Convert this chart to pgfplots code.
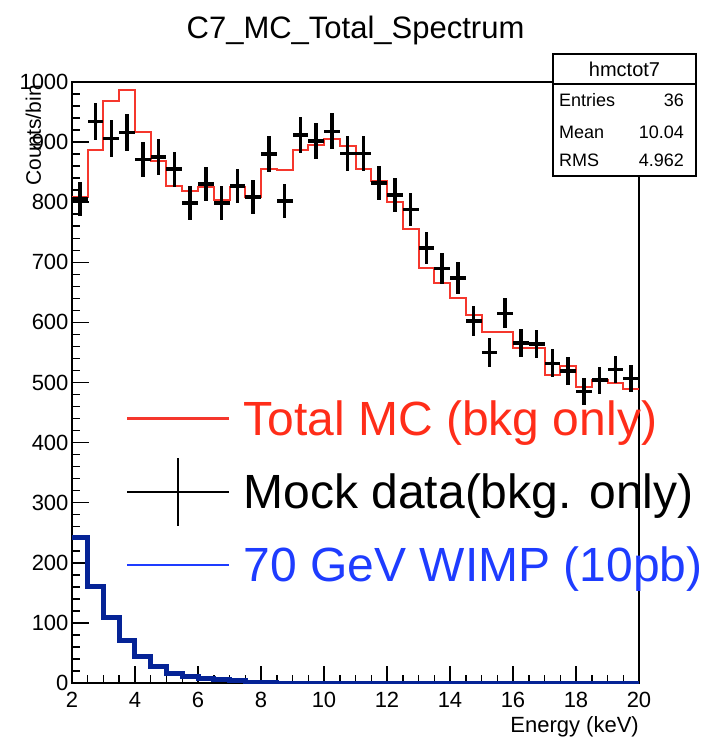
\documentclass[border=0pt]{standalone}
\usepackage{pgfplots}
\usepackage{pgfplotstable}
\pgfplotsset{compat=1.18}
\usepackage{fontspec}
\setmainfont{Liberation Sans}
\definecolor{histred}{RGB}{245,55,45}
\definecolor{legred}{RGB}{255,45,25}
\definecolor{histblue}{RGB}{5,35,150}
\definecolor{legblue}{RGB}{30,60,255}
\pgfplotstableread{
x y ex ey
2.25 805 0.25 28.4
2.75 934 0.25 30.6
3.25 906 0.25 30.1
3.75 916 0.25 30.3
4.25 871 0.25 29.5
4.75 875 0.25 29.6
5.25 855 0.25 29.2
5.75 799 0.25 28.3
6.25 830 0.25 28.8
6.75 799 0.25 28.3
7.25 827 0.25 28.8
7.75 809 0.25 28.4
8.25 880 0.25 29.7
8.75 802 0.25 28.3
9.25 912 0.25 30.2
9.75 902 0.25 30.0
10.25 918 0.25 30.3
10.75 881 0.25 29.7
11.25 881 0.25 29.7
11.75 832 0.25 28.8
12.25 812 0.25 28.5
12.75 788 0.25 28.1
13.25 724 0.25 26.9
13.75 690 0.25 26.3
14.25 674 0.25 26.0
14.75 602 0.25 24.5
15.25 550 0.25 23.5
15.75 615 0.25 24.8
16.25 566 0.25 23.8
16.75 564 0.25 23.7
17.25 532 0.25 23.1
17.75 519 0.25 22.8
18.25 485 0.25 22.0
18.75 504 0.25 22.4
19.25 522 0.25 22.8
19.75 507 0.25 22.5
}\datatab
\pgfplotstableread{
x y
2.0 809
2.5 887
3.0 969
3.5 987
4.0 917
4.5 869
5.0 827
5.5 819
6.0 826
6.5 804
7.0 826
7.5 808
8.0 856
8.5 854
9.0 887
9.5 895
10.0 905
10.5 893
11.0 856
11.5 835
12.0 801
12.5 756
13.0 690
13.5 665
14.0 640
14.5 612
15.0 584
15.5 584
16.0 557
16.5 557
17.0 512
17.5 527
18.0 492
18.5 504
19.0 499
19.5 490
20.0 490
}\mctab
\pgfplotstableread{
x y
2.0 242
2.5 161
3.0 109
3.5 70
4.0 44
4.5 27
5.0 15
5.5 11
6.0 7
6.5 5
7.0 4
7.5 1
8.0 0.5
8.5 0
9.0 0
9.5 0
10.0 0
10.5 0
11.0 0
11.5 0
12.0 0
12.5 0
13.0 0
13.5 0
14.0 0
14.5 0
15.0 0
15.5 0
16.0 0
16.5 0
17.0 0
17.5 0
18.0 0
18.5 0
19.0 0
19.5 0
20.0 0
}\wimptab
\begin{document}
\begin{tikzpicture}
\useasboundingbox (0,0) rectangle (709pt,740pt);
\begin{axis}[
  at={(72pt,57pt)}, anchor=south west,
  scale only axis, width=567pt, height=601pt,
  xmin=2, xmax=20, ymin=0, ymax=1000,
  xtick={2,4,...,20}, ytick={0,100,...,1000},
  minor x tick num=3, minor y tick num=4,
  tick pos=left, tick align=inside,
  major tick length=17pt, minor tick length=8pt,
  major tick style={black, line width=1.5pt},
  minor tick style={black, line width=1.5pt},
  axis line style={line width=1.5pt},
  /pgf/number format/assume math mode=true,
  /pgf/number format/1000 sep={},
  ticklabel style={font=\fontsize{22}{24}\selectfont},
  xticklabel style={yshift=-6pt},
  title={C7\_MC\_Total\_Spectrum},
  title style={at={(axis description cs:0.5,1)}, anchor=base, yshift=37pt, inner sep=0pt, font=\fontsize{31}{34}\selectfont},
  xlabel={Energy (keV)},
  xlabel style={at={(axis description cs:1,0)}, anchor=base east, yshift=-49pt, inner sep=0pt, font=\fontsize{22}{24}\selectfont},
  ylabel={Counts/bin},
  ylabel style={at={(axis description cs:-0.0547,0.995)}, anchor=base east, inner sep=0pt, font=\fontsize{21}{23}\selectfont},
  legend style={at={(axis description cs:0.0952,0.474)}, anchor=north west, draw=none, fill=none, inner sep=0pt, row sep=33pt, font=\fontsize{48}{52}\selectfont},
  legend cell align=left,
]
\addplot[const plot, histred, line width=2pt, forget plot] table[x=x,y=y] {\mctab};
\addplot[only marks, mark=none, black, forget plot,
  error bars/.cd, x dir=both, x explicit, y dir=both, y explicit, error mark=none,
  error bar style={black, line width=3.5pt}]
  table[x=x, y=y, x error=ex, y error=ey] {\datatab};
\addplot[const plot, histblue, line width=5pt, forget plot] table[x=x,y=y] {\wimptab};
\addlegendimage{legend image code/.code={\draw[histred, line width=2.5pt] (0pt,0pt) -- (102pt,0pt); \path (114pt,0pt);}}
\addlegendentry{\textcolor{legred}{Total MC (bkg only)}}
\addlegendimage{legend image code/.code={\draw[black, line width=2pt] (0pt,0pt) -- (102pt,0pt); \draw[black, line width=2pt, overlay] (51pt,-34pt) -- (51pt,34pt); \path (114pt,0pt);}}
\addlegendentry{Mock data(bkg. only)}
\addlegendimage{legend image code/.code={\draw[legblue, line width=2.5pt] (0pt,0pt) -- (102pt,0pt); \path (114pt,0pt);}}
\addlegendentry{\textcolor{legblue}{70 GeV WIMP (10pb)}}
\end{axis}
\draw[line width=1.5pt, fill=white] (553pt,564pt) rectangle (696pt,686pt);
\draw[line width=1.5pt] (553pt,656pt) -- (696pt,656pt);
\node[inner sep=0pt, font=\fontsize{20}{22}\selectfont] at (624.5pt,671pt) {hmctot7};
\begin{scope}[every node/.style={inner sep=0pt, font=\fontsize{18}{20}\selectfont}]
\node[anchor=west] at (559pt,640pt) {Entries};
\node[anchor=east] at (684pt,640pt) {36};
\node[anchor=west] at (559pt,608pt) {Mean};
\node[anchor=east] at (684pt,608pt) {10.04};
\node[anchor=west] at (559pt,580pt) {RMS};
\node[anchor=east] at (684pt,580pt) {4.962};
\end{scope}
\end{tikzpicture}
\end{document}
